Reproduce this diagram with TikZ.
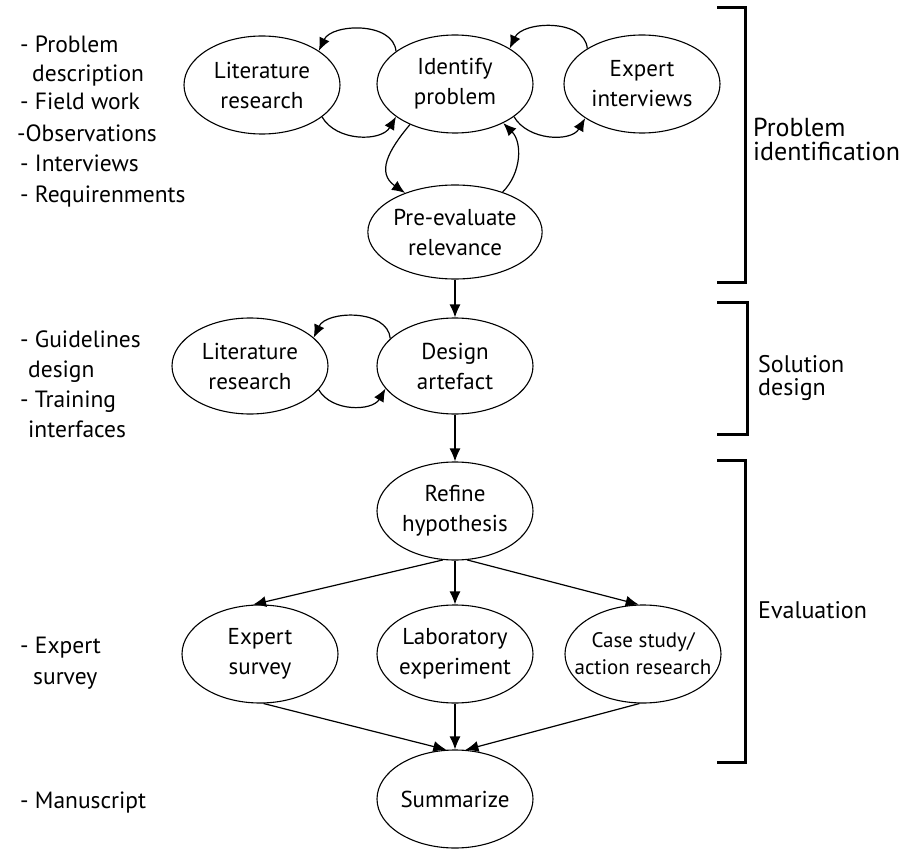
\documentclass[tikz,border=0pt]{standalone}
\usepackage{fontspec}
\setmainfont{PT Sans}
\usetikzlibrary{shapes.geometric,arrows.meta}
\newcommand{\zb}[1]{\makebox[0pt]{#1}}
\begin{document}
\begin{tikzpicture}[x=1pt,y=-1pt,
  proc/.style={ellipse, draw, line width=1.1pt, minimum width=156pt, minimum height=98pt,
    inner sep=0pt, align=center, font=\fontsize{23}{30}\selectfont},
  arr/.style={line width=1.2pt, -{Latex[length=13pt,width=11pt]}},
  side/.style={anchor=base west, inner sep=0pt, font=\fontsize{23.5}{28}\selectfont},
  brk/.style={line width=3pt, line join=miter},
  phase/.style={anchor=base west, inner sep=0pt, font=\fontsize{24}{28}\selectfont},
  bigphase/.style={anchor=base west, inner sep=0pt, font=\fontsize{26}{28}\selectfont}]
\useasboundingbox (0,0) rectangle (913,850);

% nodes
\node[proc] (lit1)   at (262,85)  {Literature\\research};
\node[proc] (ident)  at (455,84)  {Identify\\problem};
\node[proc] (expert) at (642,84)  {Expert\\interviews};
\node[proc, minimum height=94pt] (pre) at (455,232) {Pre-evaluate\\relevance};
\node[proc, minimum height=96pt] (lit2)   at (250,366) {Literature\\research};
\node[proc, minimum height=96pt] (design) at (455,366) {Design\\artefact};
\node[proc] (refine) at (455,511) {Refine\\hypothesis};
\node[proc] (esurvey) at (260,654) {Expert\\survey};
\node[proc] (lab)    at (455,654) {\zb{Laboratory}\\\zb{experiment}};
\node[proc, font=\fontsize{21}{27}\selectfont] (case) at (643,654) {\zb{Case study/}\\\zb{action research}};
\node[proc] (summ)   at (455,799) {Summarize};

% loops
\draw[arr] (ident.151) to[out=95,in=65] (lit1.31);
\draw[arr] (lit1.-28) to[out=-60,in=-120] (ident.209);
\draw[arr] (expert.147) to[out=95,in=65] (ident.33);
\draw[arr] (ident.-29) to[out=-60,in=-120] (expert.211);
\draw[arr] (ident.222) to[out=230,in=145,looseness=1.3] (pre.142);
\draw[arr] (pre.40) to[out=45,in=-45] (ident.-39);
\draw[arr] (design.157) to[out=95,in=65] (lit2.24);
\draw[arr] (lit2.-19) to[out=-60,in=-120] (design.198);

% straight arrows
\draw[arr] (pre) -- (design);
\draw[arr] (design) -- (refine);
\draw[arr] (refine.-104) -- (esurvey.98);
\draw[arr] (refine) -- (lab);
\draw[arr] (refine.-76) -- (case.95);
\draw[arr] (esurvey.-86) -- (summ.100);
\draw[arr] (lab) -- (summ);
\draw[arr] (case.-94) -- (summ.78);

% left notes
\node[side] (p1) at (20,53)  {- Problem};
\node[side] (p2) at (32,82)  {description};
\node[side] (p3) at (20,110) {- Field work};
\node[side] (p4) at (17,142) {-Observations};
\node[side] (p5) at (20,172) {- Interviews};
\node[side] (p6) at (20,203) {- Requirenments};
\node[side] (g1) at (20,348) {- Guidelines};
\node[side] (g2) at (28,377) {design};
\node[side] (g3) at (20,407) {- Training};
\node[side] (g4) at (28,437) {interfaces};
\node[side] (s1) at (20,653) {- Expert};
\node[side] (s2) at (33,684) {survey};
\node[side] (m1) at (20,808) {- Manuscript};

% brackets
\draw[brk] (717,8) -- (745,8) -- (745,283) -- (717,283);
\draw[brk] (717,303) -- (747,303) -- (747,434) -- (717,434);
\draw[brk] (717,460) -- (745,460) -- (745,762) -- (717,762);

% phase labels
\node[bigphase] (r1) at (753,137) {Problem};
\node[bigphase] (r2) at (753,161) {identification};
\node[phase] (r3) at (758,372) {Solution};
\node[phase] (r4) at (758,395) {design};
\node[phase] (r5) at (758,618) {Evaluation};
\end{tikzpicture}
\end{document}
